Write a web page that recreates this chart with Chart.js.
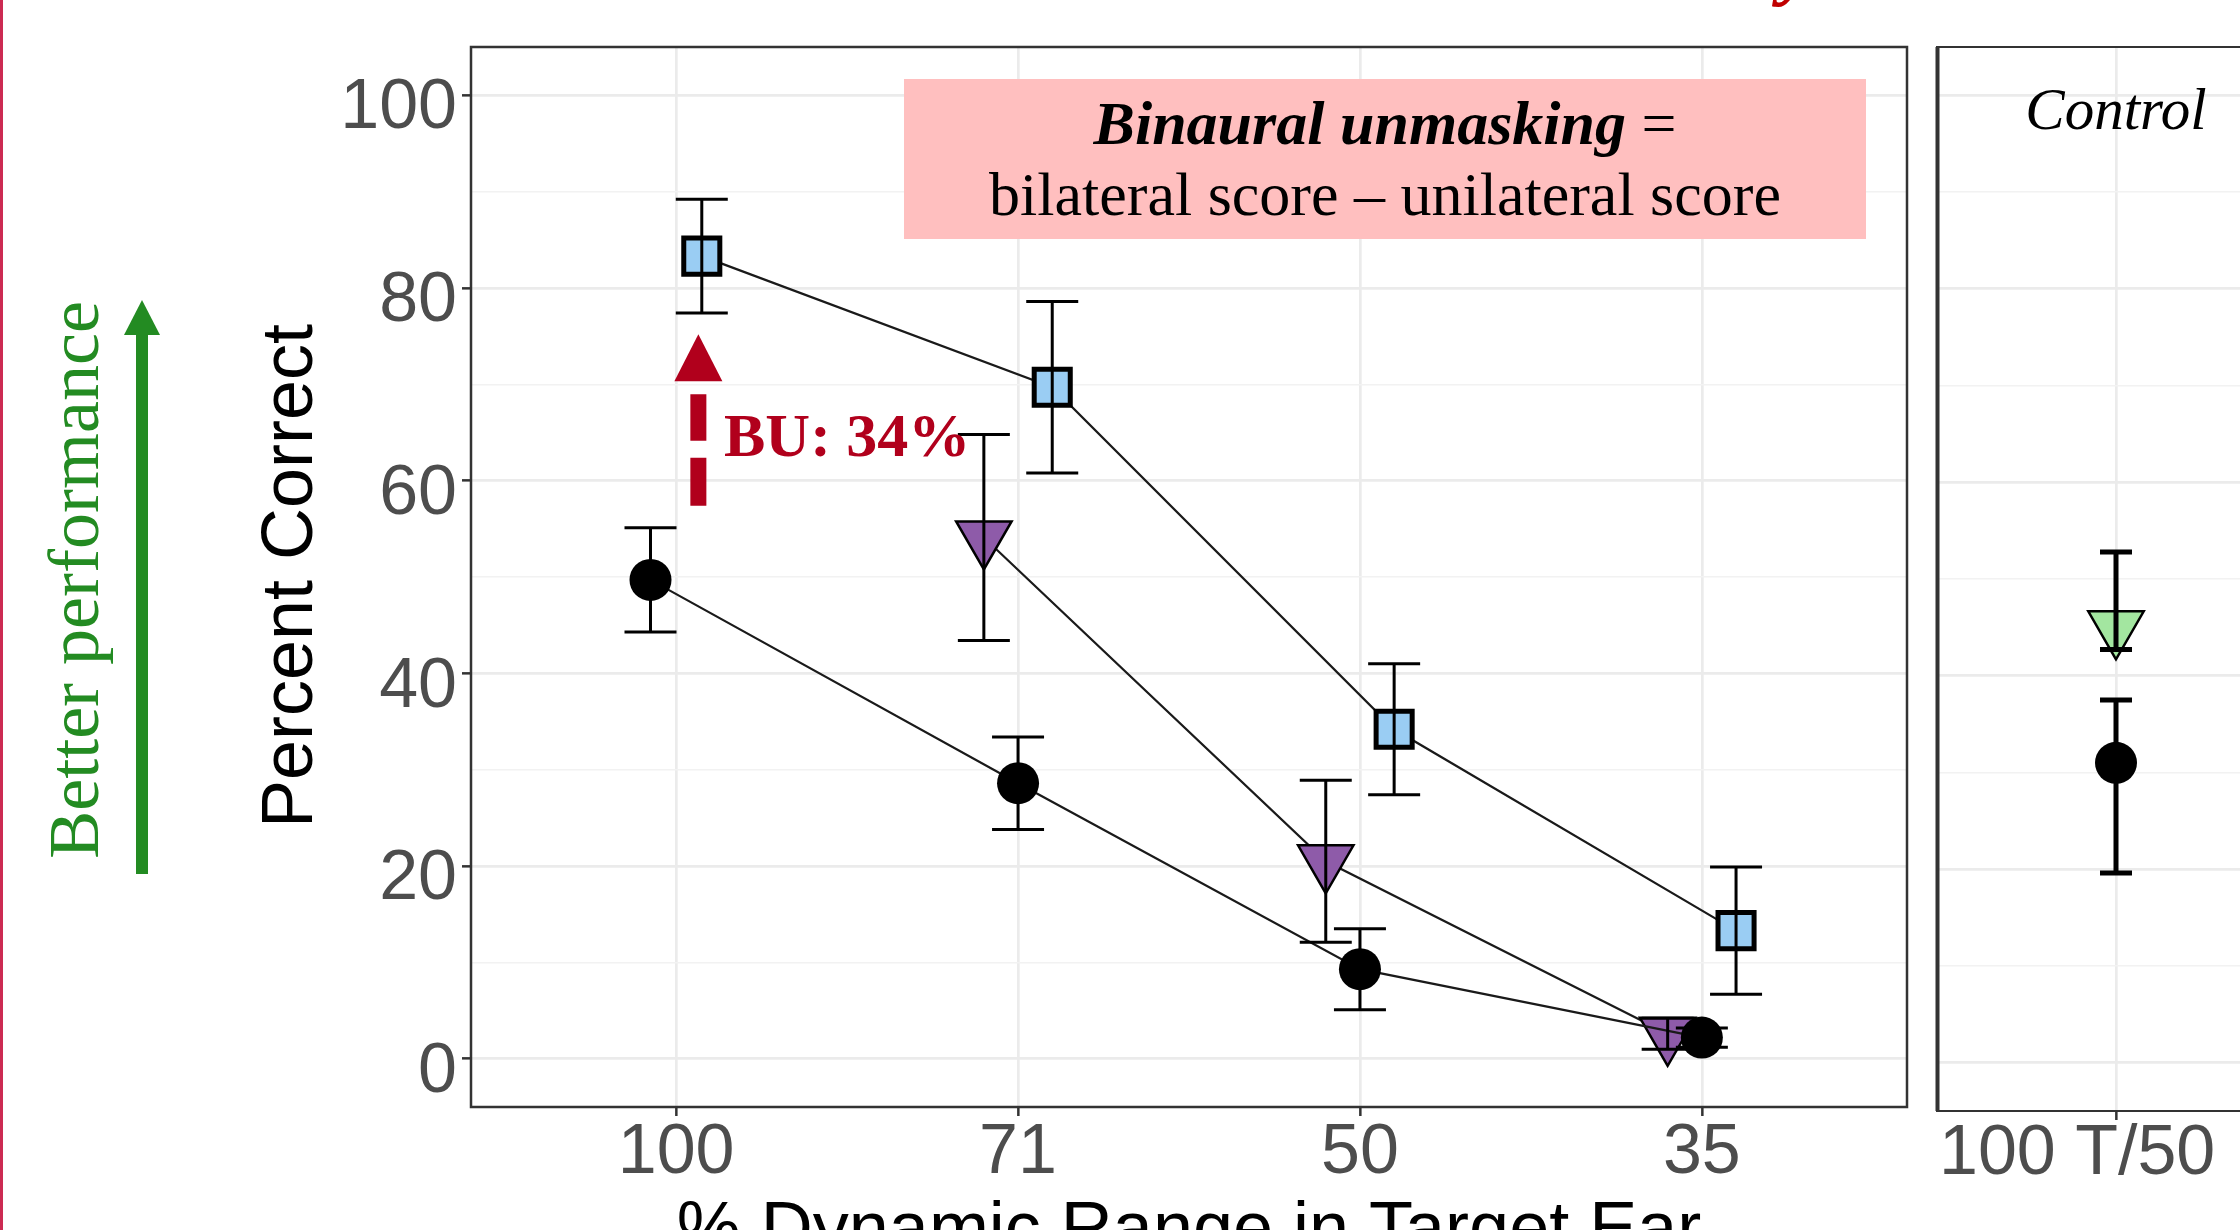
<!DOCTYPE html>
<html>
<head>
<meta charset="utf-8">
<script src="https://cdn.jsdelivr.net/npm/chart.js@4.4.1/dist/chart.umd.min.js"></script>
<style>
  html, body { margin: 0; padding: 0; background: #fff; overflow: hidden; width: 2240px; height: 1230px; }
  #main { position: absolute; left: 0; top: 0; }
  #ctrl { position: absolute; left: 1900px; top: 0; }
</style>
</head>
<body>
<canvas id="main" width="2240" height="1230" style="width:2240px;height:1230px"></canvas>
<canvas id="ctrl" width="520" height="1230" style="width:520px;height:1230px"></canvas>
<script>
// ---- data -------------------------------------------------------------
const dynamicRange = ['100', '71', '50', '35'];          // % dynamic range in target ear
const yTickValues  = [0, 10, 20, 30, 40, 50, 60, 70, 80, 90, 100];
const yLabelValues = [0, 20, 40, 60, 80, 100];

// unilateral (black circles)
const unilateralMean = [49.7, 28.6, 9.3, 2.2];
const unilateralErr  = [5.4, 4.8, 4.2, 1.0];
// bilateral, reduced range (purple triangles) - not run at 100
const reducedMean = [null, 54.1, 20.5, 2.6];
const reducedErr  = [null, 10.7, 8.4, 1.6];
// bilateral (blue squares)
const bilateralMean = [83.3, 69.7, 34.2, 13.3];
const bilateralErr  = [5.9, 8.9, 6.8, 6.6];

// control condition
const controlCategory       = ['100 T/50 M'];
const controlReducedMean    = [45.0];
const controlReducedLow     = [42.7];
const controlReducedHigh    = [52.8];
const controlUnilateralMean = [31.0];
const controlUnilateralLow  = [19.6];
const controlUnilateralHigh = [37.5];

// annotation: binaural unmasking arrow (in data units)
const buArrowX = 1.065;
const buArrowFrom = 57.4;
const buArrowTo = 75.2;

// ---- helpers ----------------------------------------------------------
const FONT_SANS  = "'Liberation Sans', Arial, sans-serif";
const FONT_SERIF = "'Liberation Serif', 'Times New Roman', serif";
const DODGE_WIDTH = 0.3;
const groupOrder = [reducedMean, unilateralMean, bilateralMean];

function dodgedX(series, i) {
  const present = groupOrder.filter(s => s[i] != null);
  const k = present.indexOf(series);
  const n = present.length;
  return (i + 1) + (k - (n - 1) / 2) * DODGE_WIDTH / n;
}
function seriesData(mean, err) {
  const pts = [];
  mean.forEach((v, i) => {
    if (v != null) pts.push({ x: dodgedX(mean, i), y: v, lo: v - err[i], hi: v + err[i] });
  });
  return pts;
}
function controlData(mean, low, high) {
  return mean.map((v, i) => ({ x: i + 1, y: v, lo: low[i], hi: high[i] }));
}

const yGrid = {
  color: ctx => (ctx.tick && ctx.tick.value % 20 === 0) ? '#EBEBEB' : '#F2F2F2',
  lineWidth: ctx => (ctx.tick && ctx.tick.value % 20 === 0) ? 2.7 : 1.5,
  tickColor: ctx => (ctx.tick && ctx.tick.value % 20 === 0) ? '#333333' : 'rgba(0,0,0,0)',
  tickLength: 9,
  tickWidth: 2.5
};

// error bars, drawn over the markers
const errorBarPlugin = {
  id: 'errorBars',
  afterDatasetsDraw(chart) {
    const ctx = chart.ctx, ys = chart.scales.y;
    chart.data.datasets.forEach((ds, di) => {
      const eb = ds.errorBar;
      if (!eb) return;
      const meta = chart.getDatasetMeta(di);
      ctx.save();
      ctx.strokeStyle = '#000';
      ctx.lineWidth = eb.width;
      meta.data.forEach((pt, i) => {
        const d = ds.data[i];
        const x = pt.x;
        const yHi = ys.getPixelForValue(d.hi), yLo = ys.getPixelForValue(d.lo);
        ctx.beginPath();
        ctx.moveTo(x, yHi); ctx.lineTo(x, yLo);
        ctx.moveTo(x - eb.cap, yHi); ctx.lineTo(x + eb.cap, yHi);
        ctx.moveTo(x - eb.cap, yLo); ctx.lineTo(x + eb.cap, yLo);
        ctx.stroke();
      });
      ctx.restore();
    });
  }
};

// page decorations, axis titles, note box and panel frame
const mainDecor = {
  id: 'mainDecor',
  beforeDraw(chart) {
    const ctx = chart.ctx;
    ctx.save();
    ctx.fillStyle = '#fff';
    ctx.fillRect(0, 0, chart.width, chart.height);
    // slide edge rule
    ctx.fillStyle = '#CC2A52';
    ctx.fillRect(0, 0, 3, chart.height);
    // heading descender peeking in at the top
    ctx.fillStyle = '#C00000';
    ctx.font = `italic bold 80px ${FONT_SERIF}`;
    ctx.textBaseline = 'alphabetic';
    ctx.fillText('y', 1780, -10);
    // "Better performance" arrow
    ctx.fillStyle = '#238B22';
    ctx.fillRect(136, 335, 12, 874 - 335);
    ctx.beginPath();
    ctx.moveTo(124, 335); ctx.lineTo(160, 335); ctx.lineTo(142, 300); ctx.closePath();
    ctx.fill();
    ctx.font = `72px ${FONT_SERIF}`;
    ctx.textAlign = 'center';
    ctx.save();
    ctx.translate(98, 580); ctx.rotate(-Math.PI / 2);
    ctx.fillText('Better performance', 0, 0);
    ctx.restore();
    // y-axis title
    ctx.fillStyle = '#000';
    ctx.font = `72px ${FONT_SANS}`;
    ctx.save();
    ctx.translate(312, 576); ctx.rotate(-Math.PI / 2);
    ctx.fillText('Percent Correct', 0, 0);
    ctx.restore();
    // x-axis title
    const a = chart.chartArea;
    ctx.fillText('% Dynamic Range in Target Ear', (a.left + a.right) / 2, 1252);
    ctx.restore();
  },
  beforeDatasetsDraw(chart) {
    const ctx = chart.ctx;
    ctx.save();
    ctx.fillStyle = '#FFBFBF';
    ctx.fillRect(904, 79, 962, 160);
    ctx.fillStyle = '#000';
    ctx.textBaseline = 'alphabetic';
    const cx = 1385;
    ctx.font = `italic bold 62px ${FONT_SERIF}`;
    const w1 = ctx.measureText('Binaural unmasking').width;
    ctx.font = `62px ${FONT_SERIF}`;
    const w2 = ctx.measureText(' =').width;
    const x0 = cx - (w1 + w2) / 2;
    ctx.textAlign = 'left';
    ctx.font = `italic bold 62px ${FONT_SERIF}`;
    ctx.fillText('Binaural unmasking', x0, 144);
    ctx.font = `62px ${FONT_SERIF}`;
    ctx.fillText(' =', x0 + w1, 144);
    ctx.textAlign = 'center';
    ctx.fillText('bilateral score \u2013 unilateral score', cx, 215);
    ctx.restore();
  },
  afterDraw(chart) {
    const ctx = chart.ctx, a = chart.chartArea;
    const xs = chart.scales.x, ys = chart.scales.y;
    ctx.save();
    // binaural unmasking arrow
    const ax = xs.getPixelForValue(buArrowX);
    const yFrom = ys.getPixelForValue(buArrowFrom);
    const yTip = ys.getPixelForValue(buArrowTo);
    const headH = 47;
    ctx.strokeStyle = '#B1001C';
    ctx.fillStyle = '#B1001C';
    ctx.lineWidth = 16;
    ctx.setLineDash([48, 17]);
    ctx.beginPath();
    ctx.moveTo(ax, yFrom); ctx.lineTo(ax, yTip + headH + 13);
    ctx.stroke();
    ctx.setLineDash([]);
    ctx.beginPath();
    ctx.moveTo(ax - 24, yTip + headH); ctx.lineTo(ax + 24, yTip + headH); ctx.lineTo(ax, yTip);
    ctx.closePath(); ctx.fill();
    ctx.font = `bold 62px ${FONT_SERIF}`;
    ctx.textAlign = 'left';
    ctx.textBaseline = 'alphabetic';
    const bu = Math.round(bilateralMean[0] - unilateralMean[0]);
    ctx.fillText(`BU: ${bu}%`, 724, 456);
    // panel frame
    ctx.strokeStyle = '#333';
    ctx.lineWidth = 2.5;
    ctx.strokeRect(a.left, a.top, a.right - a.left, a.bottom - a.top);
    ctx.restore();
  }
};

const ctrlDecor = {
  id: 'ctrlDecor',
  afterDraw(chart) {
    const ctx = chart.ctx, a = chart.chartArea;
    ctx.save();
    ctx.strokeStyle = '#333';
    ctx.lineWidth = 2;
    ctx.strokeRect(a.left, a.top, a.right - a.left, a.bottom - a.top);
    ctx.fillStyle = '#333';
    ctx.fillRect(a.left - 1.5, a.top, 4, a.bottom - a.top);
    ctx.fillStyle = '#000';
    ctx.font = `italic 59px ${FONT_SERIF}`;
    ctx.textAlign = 'center';
    ctx.fillText('Control', chart.scales.x.getPixelForValue(1), 129);
    ctx.restore();
  }
};

// ---- main panel -------------------------------------------------------
new Chart(document.getElementById('main'), {
  type: 'line',
  data: {
    datasets: [
      {
        label: 'Unilateral',
        data: seriesData(unilateralMean, unilateralErr),
        borderColor: '#1a1a1a', borderWidth: 2.2,
        pointStyle: 'circle', pointRadius: 21,
        pointBackgroundColor: '#000', pointBorderColor: '#000', pointBorderWidth: 0,
        errorBar: { width: 3, cap: 26 }
      },
      {
        label: 'Bilateral, reduced range',
        data: seriesData(reducedMean, reducedErr),
        borderColor: '#1a1a1a', borderWidth: 2.2,
        pointStyle: 'triangle', pointRotation: 180, pointRadius: 32,
        pointBackgroundColor: '#8E5BA9', pointBorderColor: '#000', pointBorderWidth: 2.5,
        errorBar: { width: 3, cap: 26 }
      },
      {
        label: 'Bilateral',
        data: seriesData(bilateralMean, bilateralErr),
        borderColor: '#1a1a1a', borderWidth: 2.2,
        pointStyle: 'rect', pointRadius: 25.5,
        pointBackgroundColor: '#9ACDF3', pointBorderColor: '#000', pointBorderWidth: 5,
        errorBar: { width: 3, cap: 26 }
      }
    ]
  },
  options: {
    responsive: false,
    animation: false,
    devicePixelRatio: 1,
    layout: { padding: { left: 0, top: 47, right: 333, bottom: 0 } },
    plugins: { legend: { display: false }, tooltip: { enabled: false } },
    scales: {
      x: {
        type: 'linear', min: 0.4, max: 4.6,
        afterBuildTicks: s => { s.ticks = dynamicRange.map((_, i) => ({ value: i + 1 })); },
        afterFit: s => { s.height = 123; },
        ticks: {
          callback: v => dynamicRange[Math.round(v) - 1],
          font: { family: FONT_SANS, size: 70, lineHeight: 1 },
          color: '#4D4D4D', padding: 3, maxRotation: 0, autoSkip: false
        },
        grid: { color: '#EBEBEB', lineWidth: 2.7, tickColor: '#333333', tickLength: 9, tickWidth: 2.5 },
        border: { display: false }
      },
      y: {
        type: 'linear', min: -5, max: 105,
        afterBuildTicks: s => { s.ticks = yTickValues.map(v => ({ value: v })); },
        afterFit: s => { s.width = 471; },
        ticks: {
          callback: v => yLabelValues.includes(v) ? String(v) : '',
          font: { family: FONT_SANS, size: 70, lineHeight: 1 },
          color: '#4D4D4D', padding: 5, labelOffset: 14, autoSkip: false
        },
        grid: yGrid,
        border: { display: false }
      }
    }
  },
  plugins: [mainDecor, errorBarPlugin]
});

// ---- control panel ----------------------------------------------------
new Chart(document.getElementById('ctrl'), {
  type: 'line',
  data: {
    datasets: [
      {
        label: 'Unilateral',
        data: controlData(controlUnilateralMean, controlUnilateralLow, controlUnilateralHigh),
        showLine: false,
        pointStyle: 'circle', pointRadius: 21,
        pointBackgroundColor: '#000', pointBorderColor: '#000', pointBorderWidth: 0,
        errorBar: { width: 5, cap: 16 }
      },
      {
        label: 'Bilateral, reduced range',
        data: controlData(controlReducedMean, controlReducedLow, controlReducedHigh),
        showLine: false,
        pointStyle: 'triangle', pointRotation: 180, pointRadius: 32,
        pointBackgroundColor: '#A3E6A0', pointBorderColor: '#000', pointBorderWidth: 2.5,
        errorBar: { width: 5, cap: 16 }
      }
    ]
  },
  options: {
    responsive: false,
    animation: false,
    devicePixelRatio: 1,
    layout: { padding: { left: 37, top: 47, right: 125, bottom: 0 } },
    plugins: { legend: { display: false }, tooltip: { enabled: false } },
    scales: {
      x: {
        type: 'linear', min: 0.4, max: 1.6,
        afterBuildTicks: s => { s.ticks = controlCategory.map((_, i) => ({ value: i + 1 })); },
        afterFit: s => { s.height = 119; },
        ticks: {
          callback: v => controlCategory[Math.round(v) - 1],
          font: { family: FONT_SANS, size: 70, lineHeight: 1 },
          color: '#4D4D4D', padding: 0, maxRotation: 0, autoSkip: false
        },
        grid: { color: '#EBEBEB', lineWidth: 2.7, tickColor: '#333333', tickLength: 9, tickWidth: 2.5 },
        border: { display: false }
      },
      y: {
        type: 'linear', min: -5, max: 105,
        afterBuildTicks: s => { s.ticks = yTickValues.map(v => ({ value: v })); },
        afterFit: s => { s.width = 0; },
        ticks: { display: false },
        grid: {
          color: yGrid.color, lineWidth: yGrid.lineWidth, drawTicks: false
        },
        border: { display: false }
      }
    }
  },
  plugins: [ctrlDecor, errorBarPlugin]
});
</script>
</body>
</html>
